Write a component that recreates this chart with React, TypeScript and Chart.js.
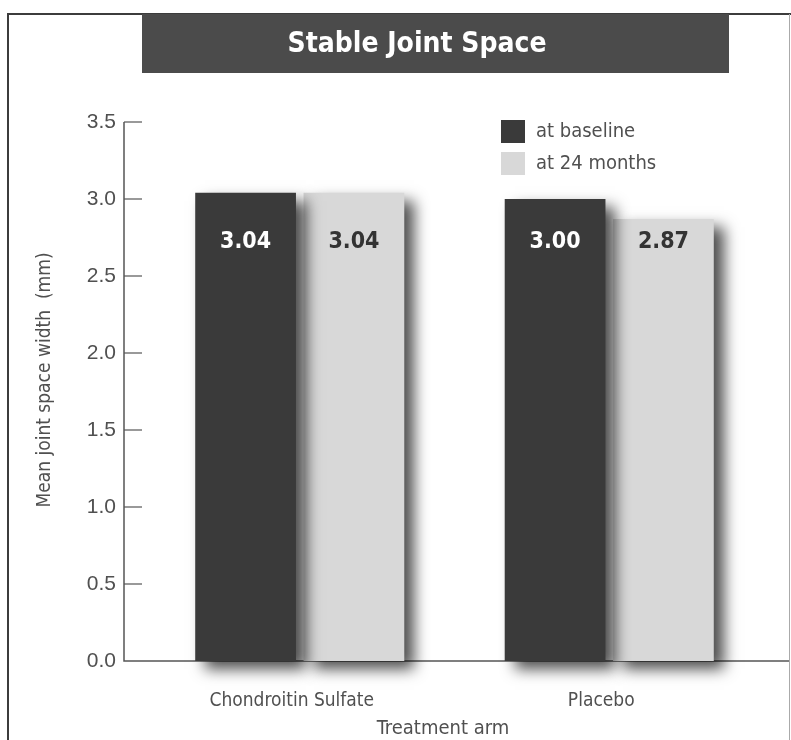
import React, { useEffect, useRef } from 'react';
import { Chart, registerables } from 'chart.js';

Chart.register(...registerables);

// ---- data ----
const categories = ['Chondroitin Sulfate', 'Placebo'];
const seriesLabels = ['at baseline', 'at 24 months'];
const baselineValues = [3.04, 3.0];
const month24Values = [3.04, 2.87];
const yTickValues = [0, 0.5, 1.0, 1.5, 2.0, 2.5, 3.0, 3.5];
const chartTitle = 'Stable Joint Space';
const yAxisTitle = 'Mean joint space width  (mm)';
const xAxisTitle = 'Treatment arm';
const valueLabelLevel = 2.72;

// ---- styles ----
const NARROW = '"Liberation Sans Narrow", "DejaVu Sans Condensed", "Roboto Condensed", Arial, sans-serif';
const SANS = '"Liberation Sans", Arial, sans-serif';
const DARK = '#3a3a3a';
const LIGHT = '#d8d8d8';
const TEXT = '#505050';
const AXIS_X = 124;

const decorPlugin = {
  id: 'decor',
  beforeDraw(chart: any) {
    const ctx = chart.ctx;
    ctx.save();
    ctx.fillStyle = '#ffffff';
    ctx.fillRect(0, 0, chart.width, chart.height);
    // frame
    ctx.strokeStyle = '#3c3c3c';
    ctx.lineWidth = 2;
    ctx.beginPath();
    ctx.moveTo(8, chart.height);
    ctx.lineTo(8, 14);
    ctx.lineTo(chart.width, 14);
    ctx.stroke();
    ctx.strokeStyle = '#aaaaaa';
    ctx.lineWidth = 1;
    ctx.beginPath();
    ctx.moveTo(789.5, 14);
    ctx.lineTo(789.5, chart.height);
    ctx.stroke();
    // banner
    ctx.fillStyle = '#4b4b4b';
    ctx.fillRect(142, 14, 587, 59);
    ctx.fillStyle = '#ffffff';
    ctx.font = `bold 28px ${NARROW}`;
    ctx.textAlign = 'center';
    ctx.textBaseline = 'middle';
    ctx.fillText(chartTitle, 417, 45);
    // axis titles
    ctx.fillStyle = TEXT;
    ctx.font = `20px ${NARROW}`;
    ctx.fillText(xAxisTitle, 443, 729);
    ctx.save();
    ctx.translate(45, 380);
    ctx.rotate(-Math.PI / 2);
    ctx.font = `19px ${NARROW}`;
    ctx.fillText(yAxisTitle, 0, 0);
    ctx.restore();
    // axes
    const y = chart.scales.y;
    const top = y.getPixelForValue(3.5);
    const y0 = y.getPixelForValue(0);
    ctx.strokeStyle = '#555555';
    ctx.lineWidth = 1.5;
    ctx.beginPath();
    ctx.moveTo(AXIS_X, top);
    ctx.lineTo(AXIS_X, y0);
    ctx.lineTo(789, y0);
    ctx.stroke();
    ctx.lineWidth = 1.2;
    y.ticks.forEach((t: any) => {
      const py = y.getPixelForValue(t.value);
      if (t.value === 0) return;
      ctx.beginPath();
      ctx.moveTo(AXIS_X, py);
      ctx.lineTo(AXIS_X + 18, py);
      ctx.stroke();
    });
    ctx.restore();
  },
  beforeDatasetsDraw(chart: any) {
    const ctx = chart.ctx;
    ctx.save();
    ctx.shadowColor = 'rgba(0,0,0,0.7)';
    ctx.shadowBlur = 14;
    ctx.shadowOffsetX = 10;
    ctx.shadowOffsetY = 8;
  },
  afterDatasetsDraw(chart: any) {
    const ctx = chart.ctx;
    ctx.restore();
    ctx.save();
    // value labels
    const ly = chart.scales.y.getPixelForValue(valueLabelLevel);
    ctx.font = `bold 23px ${NARROW}`;
    ctx.textAlign = 'center';
    ctx.textBaseline = 'middle';
    chart.data.datasets.forEach((ds: any, di: number) => {
      const meta = chart.getDatasetMeta(di);
      meta.data.forEach((bar: any, i: number) => {
        ctx.fillStyle = di === 0 ? '#ffffff' : '#333333';
        ctx.fillText(Number(ds.data[i]).toFixed(2), bar.x, ly);
      });
    });
    // legend
    ctx.font = `20px ${NARROW}`;
    ctx.textAlign = 'left';
    chart.data.datasets.forEach((ds: any, di: number) => {
      const top = 120 + di * 32;
      ctx.fillStyle = ds.backgroundColor;
      ctx.fillRect(501, top, 24, 23);
      ctx.fillStyle = TEXT;
      ctx.fillText(ds.label, 536, top + 12);
    });
    ctx.restore();
  },
};

export default function App() {
  const ref = useRef<HTMLCanvasElement | null>(null);
  useEffect(() => {
    if (!ref.current) return;
    const chart = new Chart(ref.current, {
      type: 'bar',
      data: {
        labels: categories,
        datasets: [
          {
            label: seriesLabels[0],
            data: baselineValues,
            backgroundColor: DARK,
            barPercentage: 0.93,
            categoryPercentage: 0.7,
            clip: false as any,
          },
          {
            label: seriesLabels[1],
            data: month24Values,
            backgroundColor: LIGHT,
            barPercentage: 0.93,
            categoryPercentage: 0.7,
            clip: false as any,
          },
        ],
      },
      options: {
        responsive: false,
        animation: false,
        devicePixelRatio: 1,
        layout: { padding: { top: 122, right: 27, left: 31, bottom: 0 } },
        plugins: {
          legend: { display: false },
          title: { display: false },
          tooltip: { enabled: false },
        },
        scales: {
          x: {
            offset: true,
            grid: { display: false, drawTicks: false },
            border: { display: false },
            ticks: { font: { family: NARROW, size: 19 }, color: TEXT, padding: 29, labelOffset: -8 },
            afterFit: (s: any) => {
              s.height = 79;
            },
          },
          y: {
            min: 0,
            max: 3.5,
            afterBuildTicks: (s: any) => {
              s.ticks = yTickValues.map((v) => ({ value: v }));
            },
            grid: { display: false, drawTicks: false },
            border: { display: false },
            ticks: {
              font: { family: SANS, size: 21 },
              color: TEXT,
              padding: 29,
              callback: (v: any) => Number(v).toFixed(1),
            },
            afterFit: (s: any) => {
              s.width = 114;
            },
          },
        },
      },
      plugins: [decorPlugin],
    });
    return () => chart.destroy();
  }, []);
  return (
    <div style={{ position: 'absolute', left: 0, top: 0, width: 791, height: 740 }}>
      <canvas ref={ref} width={791} height={740} style={{ display: 'block', width: 791, height: 740 }} />
    </div>
  );
}
